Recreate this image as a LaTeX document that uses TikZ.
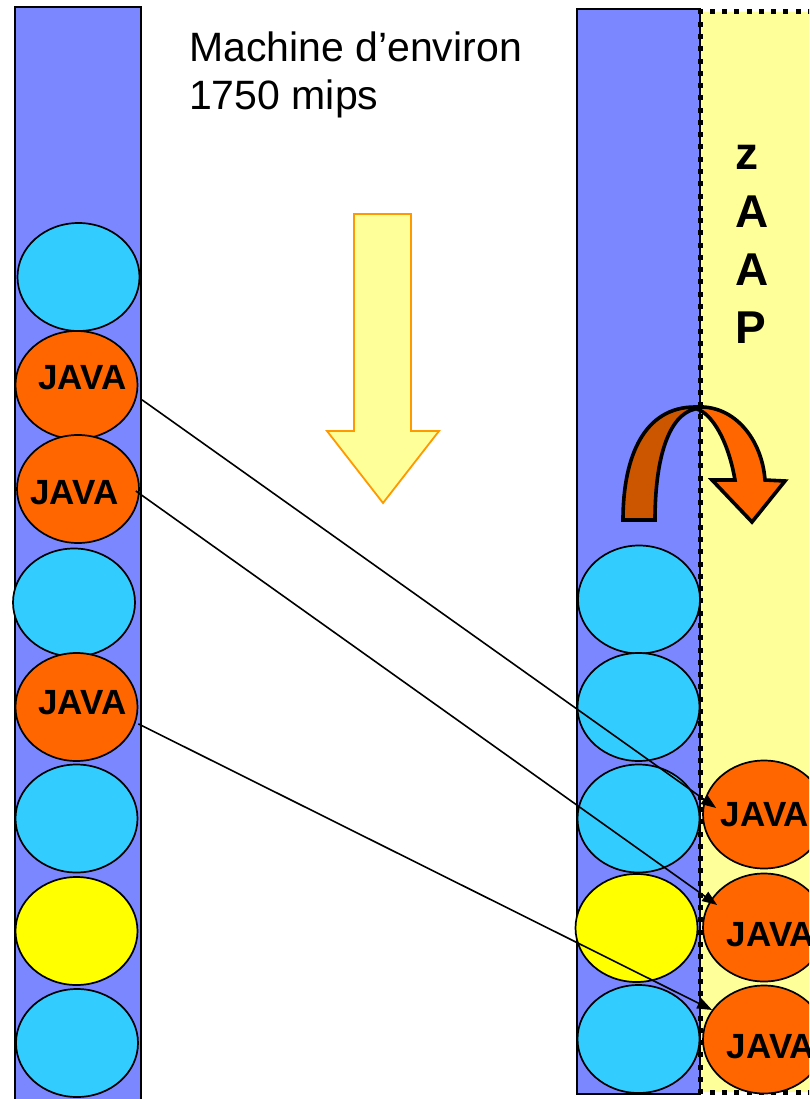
\documentclass[tikz,border=0pt]{standalone}
\usepackage{fontspec}
\setmainfont{Liberation Sans}
\usetikzlibrary{shapes.geometric,arrows.meta,calc}
\definecolor{colblue}{RGB}{122,135,255}
\definecolor{colcyan}{RGB}{51,204,255}
\definecolor{colorange}{RGB}{255,102,0}
\definecolor{colyel}{RGB}{255,255,0}
\definecolor{lightyel}{RGB}{255,255,153}
\definecolor{darkorange}{RGB}{204,85,0}
\definecolor{arrowedge}{RGB}{255,153,0}
\begin{document}
\begin{tikzpicture}[x=1pt,y=-1pt,
  ball/.style={ellipse,draw=black,line width=1.7pt,inner sep=0,minimum width=122pt,minimum height=108pt},
  cyanball/.style={ball,fill=colcyan},
  javaball/.style={ball,fill=colorange},
  yelball/.style={ball,fill=colyel},
  javatext/.style={inner sep=0,font=\fontsize{35pt}{42pt}\selectfont\bfseries},
  column/.style={fill=colblue,draw=black,line width=1.9pt},
  link/.style={draw=black,line width=1.6pt,-{Triangle[length=15pt,width=11pt]}},
  turn/.style={draw=black,line width=3.6pt,line join=miter},
]
\useasboundingbox (0,0) rectangle (809,1099);
\fill[white] (0,0) rectangle (809,1099);
\begin{scope}
\clip (0,0) rectangle (809,1099);

% left column
\draw[column] (15,7) rectangle (141,1110);

% right columns
\fill[lightyel] (700,12) rectangle (820,1092);
\draw[column] (577,9) rectangle (700,1094);
% dotted border of the zAAP area
\foreach \i in {0,...,88} {
  \fill[black] (697.5,{9.5+\i*12.27}) rectangle +(5,5);
}
\foreach \i in {1,...,9} {
  \fill[black] ({697.5+\i*12.27},9.5) rectangle +(5,5);
  \fill[black] ({697.5+\i*12.27},1089.5) rectangle +(5,5);
}

% title
\node[anchor=base west,inner sep=0,align=left,font=\fontsize{41pt}{48pt}\selectfont] (title) at (189,110) {Machine d’environ\\1750 mips};

% zAAP label
\node[anchor=base west,inner sep=0,align=left,font=\fontsize{46pt}{58pt}\selectfont\bfseries] (zaap) at (735,343) {z\\A\\A\\P};

% big down arrow
\draw[fill=lightyel,draw=arrowedge,line width=1.8pt,line join=miter]
  (354,214) -- (411,214) -- (411,431) -- (439,431) -- (383,503) -- (327,431) -- (354,431) -- cycle;

% left column balls
\node[cyanball] (cl1) at (78.5,277) {};
\node[javaball] (jl1) at (76.5,385) {};
\node[javaball] (jl2) at (78,489) {};
\node[cyanball] (cl2) at (74,602.5) {};
\node[javaball] (jl3) at (76.5,707) {};
\node[cyanball] (cl3) at (76.5,818.5) {};
\node[yelball] (yl1) at (76.5,931) {};
\node[cyanball] (cl4) at (77,1043) {};
\node[javatext] (tl1) at (82.5,377.5) {JAVA};
\node[javatext] (tl2) at (74.5,492.5) {JAVA};
\node[javatext] (tl3) at (82.5,702.5) {JAVA};

% right column balls
\node[cyanball] (cr1) at (639,599.5) {};
\node[cyanball] (cr2) at (638.5,707) {};
\node[cyanball] (cr3) at (638.5,818.5) {};
\node[yelball] (yr1) at (636.5,928) {};
\node[cyanball] (cr4) at (638.5,1039) {};
\node[javaball] (jr1) at (764,814.5) {};
\node[javaball] (jr2) at (764,927.5) {};
\node[javaball] (jr3) at (764,1039.5) {};
\node[javatext] (tr1) at (765,815) {JAVA};
\node[javatext] (tr2) at (771,934.5) {JAVA};
\node[javatext] (tr3) at (771,1047) {JAVA};

% U-turn arrow
\draw[turn,fill=darkorange] (623,520) .. controls (623,455) and (645,407) .. (695,407)
  -- (695,409) .. controls (668,415) and (655,460) .. (655,520) -- cycle;
\draw[turn,fill=colorange] (697,407) .. controls (735,405) and (762,440) .. (765,480)
  -- (785,481) -- (752,522) -- (712,480) -- (735,480)
  .. controls (728,440) and (712,414) .. (697,409) -- cycle;

% links
\draw[link] ($(jl1.-14)+(6,0)$) -- ($(jr1.west)+(14,-6.5)$);
\draw[link] ($(jl2.east)+(-4,2)$) -- ($(jr2.west)+(15,-22.5)$);
\draw[link] ($(jl3.-16)+(3,0)$) -- ($(jr3.west)+(10,-29.5)$);
\end{scope}
\end{tikzpicture}
\end{document}
